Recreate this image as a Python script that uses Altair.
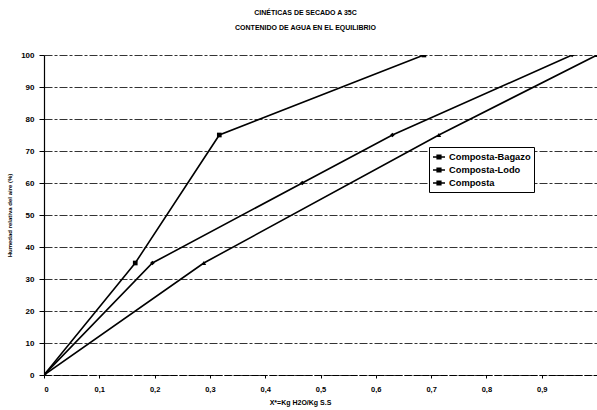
import altair as alt
import pandas as pd

# Drying kinetics: equilibrium water content vs relative air humidity
series_names = ["Composta-Bagazo", "Composta-Lodo", "Composta"]
series_markers = ["square", "diamond", "triangle-up"]

bagazo_x = [0.0, 0.165, 0.317, 0.687]
bagazo_y = [0, 35, 75, 100]

lodo_x = [0.0, 0.196, 0.467, 0.630, 0.955]
lodo_y = [0, 35, 60, 75, 100]

composta_x = [0.0, 0.289, 0.714, 1.0]
composta_y = [0, 35, 75, 100]

x_ticks = [0.0, 0.1, 0.2, 0.3, 0.4, 0.5, 0.6, 0.7, 0.8, 0.9]
y_ticks = [0, 10, 20, 30, 40, 50, 60, 70, 80, 90, 100]

rows = []
for name, xs, ys in zip(series_names,
                        [bagazo_x, lodo_x, composta_x],
                        [bagazo_y, lodo_y, composta_y]):
    for i, (xv, yv) in enumerate(zip(xs, ys)):
        rows.append({"serie": name, "x": xv, "y": yv, "orden": i})
df = pd.DataFrame(rows)

FONT = "Liberation Sans"

x_axis = alt.Axis(
    values=x_ticks,
    labelExpr="datum.value == 0 ? '0' : replace(format(datum.value, '.1f'), '.', ',')",
    title="X*=Kg H2O/Kg S.S",
    titleX=256,
    titleFontSize=7,
    titleFontWeight="bold",
    titlePadding=6,
    labelFontSize=7.5,
    labelFontWeight="bold",
    labelPadding=7,
    tickSize=3,
    tickColor="black",
    domainColor="black",
    domainDash=[7, 2],
    grid=False,
    labelColor="black",
    titleColor="black",
)

y_axis = alt.Axis(
    values=y_ticks,
    tickCount=11,
    labelOverlap=False,
    title="Humedad relativa del aire (%)",
    titleFontSize=6,
    titleFontWeight="bold",
    titlePadding=8,
    labelFontSize=8,
    labelFontWeight="bold",
    labelPadding=5,
    tickSize=5,
    tickColor="black",
    domainColor="black",
    domainWidth=1.2,
    grid=True,
    gridColor="black",
    gridDash=[8, 2, 3, 2],
    gridOpacity=0.8,
    gridWidth=1,
    labelColor="black",
    titleColor="black",
)

x_enc = alt.X("x:Q", scale=alt.Scale(domain=[0, 1], nice=False), axis=x_axis)
y_enc = alt.Y("y:Q", scale=alt.Scale(domain=[0, 100], nice=False), axis=y_axis)

base = alt.Chart(df)

lines = base.mark_line(strokeWidth=1.6, clip=True).encode(
    x=x_enc,
    y=y_enc,
    order="orden:O",
    color=alt.Color(
        "serie:N",
        sort=series_names,
        scale=alt.Scale(domain=series_names, range=["black", "black", "black"]),
        legend=alt.Legend(
            title=None,
            orient="none",
            legendX=385,
            legendY=92,
            direction="vertical",
            strokeColor="black",
            fillColor="white",
            padding=3,
            rowPadding=0,
            labelFontSize=9.3,
            labelFontWeight="bold",
            labelFont=FONT,
            labelColor="black",
            symbolType="M-1,0H1M-0.3,-0.3H0.3V0.3H-0.3Z",
            symbolSize=144,
            symbolStrokeWidth=1.6,
            symbolFillColor="black",
            symbolStrokeColor="black",
            labelOffset=3,
        ),
    ),
)

# one marker layer per series, each with its own fixed shape
marker_layers = [
    base.transform_filter(alt.datum.serie == name)
    .mark_point(shape=shape, filled=True, size=22, opacity=1, color="black", clip=True)
    .encode(x=x_enc, y=y_enc)
    for name, shape in zip(series_names, series_markers)
]

chart = (
    alt.layer(lines, *marker_layers)
    .properties(
        width=553,
        height=320,
        padding={"left": 44, "top": 55, "right": 0, "bottom": 35},
        autosize=alt.AutoSizeParams(type="none"),
        title=alt.TitleParams(
            text=["CINÉTICAS DE SECADO A 35C", "CONTENIDO DE AGUA EN EL EQUILIBRIO"],
            fontSize=7,
            fontWeight="bold",
            font=FONT,
            color="black",
            anchor="middle",
            dx=-15,
            lineHeight=15,
            offset=20,
        ),
    )
    .configure(font=FONT, background="white")
    .configure_view(stroke=None)
)

chart.save("out.html", embed_options={"renderer": "svg", "actions": False})
